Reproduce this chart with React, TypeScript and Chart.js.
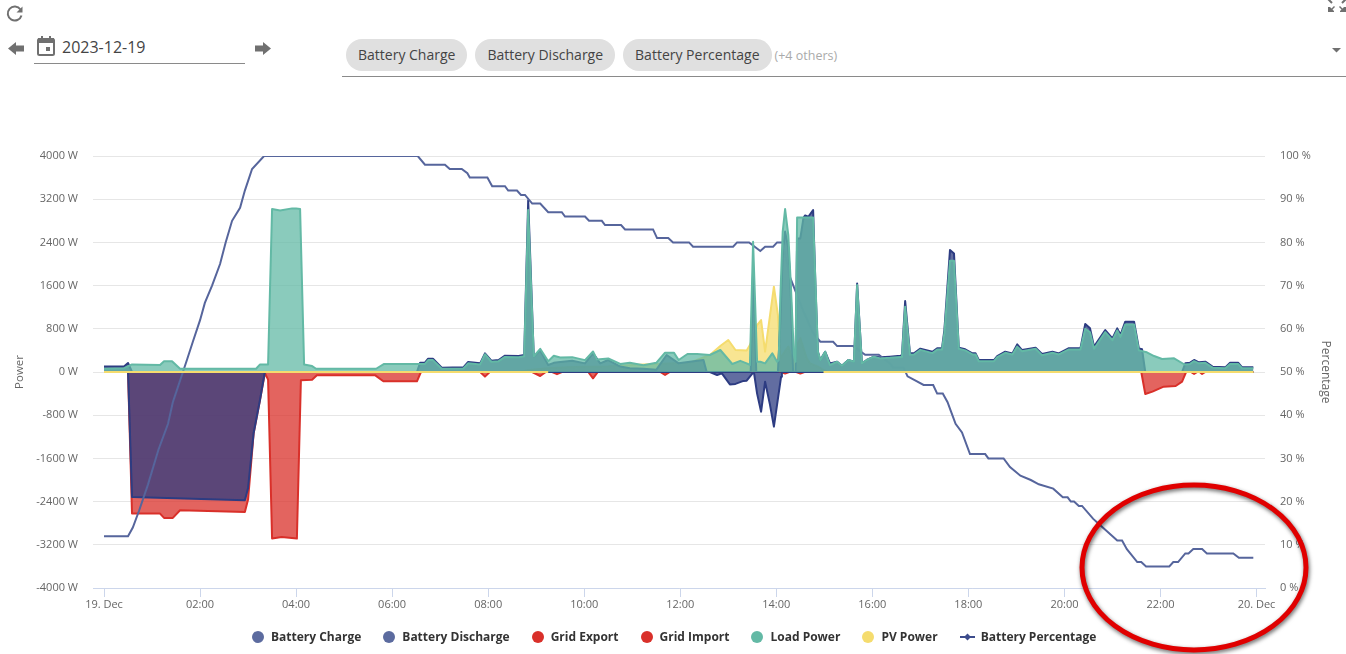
import React, { useEffect, useRef } from 'react';
import { Chart } from 'chart.js/auto';

// all series are [minutes since 19 Dec 00:00, value]
const batteryCharge: number[][] = [
  [0, 0], [30, 0], [35, -2313], [176, -2375], [180, -2147], [187, -1129], [195, -512], [201, 0],
  [740, 0], [757, 0], [766, -55], [772, -25], [782, -230], [789, -220], [799, -165], [803, -160],
  [810, -30], [812, 0], [816, -400], [821, -735], [826, -180], [832, -600], [837, -1012], [846, -86], [847, 0], [1436, 0],
];
const batteryDischarge: number[][] = [
  [0, 100], [25, 100], [30, 167], [35, 0], [391, 0], [395, 173], [401, 173], [405, 247], [411, 247], [422, 80],
  [449, 86], [455, 185], [470, 160], [476, 345], [484, 210], [493, 222], [501, 302], [518, 296], [525, 315],
  [530, 3180], [537, 285], [545, 400], [555, 130], [562, 170], [570, 185], [585, 210], [601, 160], [611, 345],
  [620, 160], [630, 222], [645, 100], [657, 70], [674, 60], [690, 40], [703, 315], [718, 160], [732, 191],
  [749, 222], [753, 0], [808, 0], [811, 1900], [815, 0], [842, 0], [845, 900], [848, 2200], [851, 2600], [855, 2300],
  [858, 1500], [861, 0], [864, 0], [866, 2474], [870, 2474], [874, 2857], [876, 2900], [880, 2875], [886, 3000],
  [889, 1550], [892, 376], [895, 222], [901, 376], [907, 160], [916, 190], [922, 117],
  [930, 222], [937, 190], [941, 1640], [947, 160], [953, 222], [962, 284], [970, 271], [982, 284], [995, 302],
  [997, 310], [1001, 1314], [1007, 345], [1012, 345], [1020, 432], [1035, 376], [1041, 438], [1047, 438],
  [1050, 777], [1057, 2258], [1062, 2196], [1068, 450], [1076, 420], [1085, 345], [1089, 345], [1093, 222],
  [1112, 222], [1116, 296], [1126, 376], [1135, 345], [1141, 512], [1147, 407], [1164, 450], [1172, 333],
  [1185, 376], [1193, 345], [1205, 438], [1220, 438], [1226, 888], [1232, 808], [1237, 469], [1251, 777],
  [1260, 623], [1266, 808], [1270, 685], [1276, 932], [1287, 932], [1293, 438], [1297, 420], [1301, 0],
  [1347, 0], [1351, 160], [1357, 173], [1362, 222], [1368, 179], [1376, 191], [1385, 99], [1401, 86],
  [1407, 173], [1417, 173], [1422, 86], [1436, 86],
];
const gridExport: number[][] = [[0, 0], [1436, 0]];
const gridImport: number[][] = [
  [0, 0], [30, 0], [35, -2622], [70, -2622], [75, -2702], [86, -2702], [95, -2560], [176, -2591], [180, -2363],
  [187, -1129], [195, -512], [201, -18], [205, -142], [210, -3085], [222, -3054], [241, -3085], [246, -154],
  [260, -142], [266, -62], [339, -62], [349, -172], [391, -172], [396, 0], [470, 0], [476, -86], [482, 0],
  [535, 0], [545, -74], [552, 0], [560, 0], [566, -40], [572, 0], [605, 0], [611, -117], [617, 0], [695, 0],
  [701, -55], [707, 0], [846, 0], [851, -30], [856, 0], [865, 0], [870, -30], [875, 0], [1296, 0], [1301, -407],
  [1310, -364], [1324, -271], [1339, -259], [1347, -179], [1352, 0], [1358, 0], [1362, -37], [1366, 0],
  [1369, 0], [1372, -37], [1376, 0], [1436, 0],
];
const loadPower: number[][] = [
  [0, 60], [25, 70], [35, 140], [70, 130], [75, 200], [85, 200], [95, 60], [190, 60], [195, 140], [205, 140],
  [210, 3020], [220, 2990], [235, 3030], [240, 3030], [245, 3020], [250, 140], [260, 110], [265, 60], [340, 60],
  [350, 150], [395, 150], [401, 150], [405, 220], [411, 220], [422, 60], [449, 65], [455, 160], [470, 140],
  [476, 330], [484, 190], [493, 200], [501, 280], [518, 275], [525, 290], [530, 3000], [537, 290], [545, 430],
  [555, 200], [562, 300], [570, 270], [585, 275], [601, 220], [611, 380], [616, 230], [630, 250], [645, 150],
  [657, 170], [674, 125], [690, 170], [701, 358], [712, 358], [718, 222], [729, 333], [741, 333], [757, 315],
  [770, 407], [785, 148], [795, 207], [803, 160], [807, 130], [811, 2412], [816, 190], [820, 190], [826, 160],
  [835, 345], [841, 190], [843, 222], [845, 1363], [848, 2598], [851, 3017], [855, 2536], [858, 1672], [862, 315],
  [864, 191], [866, 2863], [886, 2863], [892, 376], [895, 222], [901, 376], [907, 130], [916, 190], [922, 117],
  [930, 222], [937, 190], [941, 1610], [947, 160],
  [953, 222], [962, 284], [970, 250], [982, 262], [995, 280], [997, 280], [1001, 1210], [1007, 320], [1012, 325],
  [1020, 410], [1035, 350], [1041, 415], [1047, 415], [1050, 720], [1057, 2060], [1062, 2060], [1068, 430],
  [1076, 400], [1085, 325], [1089, 325], [1093, 200], [1112, 200], [1116, 275], [1126, 355], [1135, 325],
  [1141, 470], [1147, 385], [1164, 430], [1172, 310], [1185, 355], [1193, 325], [1205, 415], [1220, 415],
  [1226, 800], [1232, 735], [1237, 430], [1251, 740], [1260, 590], [1266, 770], [1270, 650], [1276, 880],
  [1287, 880], [1293, 400], [1303, 364], [1312, 296], [1322, 240], [1337, 253], [1349, 148], [1351, 140],
  [1357, 150], [1362, 200], [1368, 160], [1376, 170], [1385, 80], [1401, 70], [1407, 150], [1417, 150],
  [1422, 70], [1436, 70],
];
const pvPower: number[][] = [
  [0, 0], [505, 0], [520, 10], [535, 40], [555, 70], [580, 90], [605, 95], [630, 100], [660, 130], [690, 150],
  [715, 160], [732, 172], [757, 315], [770, 481], [780, 592], [789, 407], [803, 400], [807, 500], [812, 685],
  [816, 870], [821, 962], [826, 376], [837, 1580], [842, 1055], [845, 253], [855, 469], [861, 191], [866, 500],
  [870, 623], [878, 253], [882, 160], [892, 100], [899, 37], [905, 0], [1436, 0],
];
const batteryPercentage: number[][] = [
  [0, 12], [30, 12], [36, 14], [44, 18], [55, 24], [68, 32], [80, 38], [86, 43], [95, 48], [104, 53], [111, 57],
  [120, 62], [126, 66], [135, 70], [145, 75], [152, 80], [160, 85], [170, 88], [176, 92], [185, 97], [200, 100],
  [392, 100], [401, 98], [426, 98], [432, 97], [447, 97], [454, 96], [457, 95], [479, 95], [485, 93], [501, 93],
  [505, 92], [516, 92], [521, 91], [526, 91], [535, 89], [545, 89], [555, 87], [572, 87], [576, 86], [601, 86],
  [606, 85], [622, 85], [626, 84], [646, 84], [651, 83], [686, 83], [691, 81], [705, 81], [711, 80], [731, 80],
  [736, 79], [786, 79], [791, 80], [806, 80], [820, 78], [826, 79], [836, 79], [841, 80], [848, 80], [857, 72],
  [874, 64], [886, 59], [895, 57], [911, 57], [916, 56], [936, 56], [951, 54], [968, 54], [982, 52], [986, 51],
  [999, 51], [1004, 49], [1014, 48], [1024, 47], [1036, 47], [1041, 45], [1048, 45], [1054, 43], [1058, 41],
  [1064, 38], [1072, 36], [1082, 31], [1101, 31], [1105, 30], [1124, 30], [1132, 28], [1145, 26], [1158, 25],
  [1168, 24], [1186, 23], [1198, 21], [1204, 21], [1208, 20], [1212, 20], [1218, 19], [1222, 19], [1236, 16],
  [1242, 15], [1266, 11], [1272, 11], [1278, 9], [1291, 6], [1296, 6], [1302, 5], [1331, 5], [1336, 6], [1342, 6],
  [1351, 8], [1355, 8], [1361, 9], [1372, 9], [1378, 8], [1411, 8], [1418, 7], [1436, 7],
];

const timeTicks = [0, 120, 240, 360, 480, 600, 720, 840, 960, 1080, 1200, 1320, 1440];
const timeLabels = ['19. Dec', '02:00', '04:00', '06:00', '08:00', '10:00', '12:00', '14:00', '16:00', '18:00', '20:00', '22:00', '20. Dec'];
const chips = ['Battery Charge', 'Battery Discharge', 'Battery Percentage'];

const NAVY = '45, 60, 130';
const RED = '217, 48, 42';
const TEAL = '99, 185, 165';
const YELLOW = '245, 220, 110';
const FONT = '"Open Sans", sans-serif';

const legendItems = [
  { label: 'Battery Charge', color: '#5c6b9f' },
  { label: 'Battery Discharge', color: '#5c6b9f' },
  { label: 'Grid Export', color: '#d9302a' },
  { label: 'Grid Import', color: '#d9302a' },
  { label: 'Load Power', color: '#63b9a5' },
  { label: 'PV Power', color: '#f5dc6e' },
  { label: 'Battery Percentage', color: '#3d4c8c', line: true },
];

const toPoints = (rows: number[][]) => rows.map(([x, y]) => ({ x, y }));

function area(label: string, rows: number[][], rgb: string, order: number) {
  return {
    label,
    data: toPoints(rows),
    order,
    yAxisID: 'y',
    borderColor: `rgb(${rgb})`,
    backgroundColor: `rgba(${rgb}, 0.75)`,
    borderWidth: 2,
    borderJoinStyle: 'round',
    pointRadius: 0,
    fill: 'origin',
    tension: 0,
  };
}

function PowerChart() {
  const chartRef = useRef<HTMLCanvasElement | null>(null);

  useEffect(() => {
    document.body.style.margin = '0';
    if (!chartRef.current) return;
    const chart = new Chart(chartRef.current, {
      type: 'line',
      data: {
        datasets: [
          area('Battery Charge', batteryCharge, NAVY, 4),
          area('Battery Discharge', batteryDischarge, NAVY, 3),
          area('Grid Export', gridExport, RED, 7),
          area('Grid Import', gridImport, RED, 6),
          area('Load Power', loadPower, TEAL, 1),
          area('PV Power', pvPower, YELLOW, 5),
          {
            label: 'Battery Percentage',
            data: toPoints(batteryPercentage),
            order: 2,
            yAxisID: 'yPct',
            borderColor: 'rgb(86, 101, 156)',
            borderWidth: 2,
            pointRadius: 0,
            fill: false,
            tension: 0,
          },
          // yellow baseline stays visible where PV is about zero
          {
            label: 'PV baseline',
            data: pvPower.map(([x, y]) => ({ x, y: y <= 70 ? 0 : null })),
            order: 0,
            yAxisID: 'y',
            borderColor: 'rgb(245, 220, 110)',
            borderWidth: 2,
            pointRadius: 0,
            fill: false,
            spanGaps: false,
          },
        ],
      } as any,
      options: {
        responsive: false,
        animation: false,
        layout: { padding: { top: 156, left: 0, right: 0, bottom: 0 } },
        plugins: { legend: { display: false }, tooltip: { enabled: false } },
        scales: {
          x: {
            type: 'linear',
            position: 'bottom',
            min: -13.75,
            max: 1450.6,
            afterBuildTicks: (scale: any) => {
              scale.ticks = timeTicks.map((value) => ({ value }));
            },
            afterFit: (scale: any) => {
              scale.height = 66;
            },
            border: { color: '#ccd6eb' },
            grid: { drawOnChartArea: false, color: '#ccd6eb', tickLength: 9 },
            ticks: {
              padding: 1,
              color: '#666',
              autoSkip: false,
              maxRotation: 0,
              font: { size: 11, family: FONT },
              callback: (v: any) => timeLabels[timeTicks.indexOf(v)] ?? '',
            },
          },
          y: {
            position: 'left',
            min: -4000,
            max: 4000,
            afterFit: (scale: any) => {
              scale.width = 93;
            },
            border: { display: false },
            grid: { color: '#e6e6e6', drawTicks: false },
            ticks: {
              stepSize: 800,
              padding: 15,
              color: '#666',
              font: { size: 11, family: FONT },
              callback: (v: any) => `${v} W`,
            },
            title: {
              display: true,
              text: 'Power',
              color: '#666',
              font: { size: 11.5, family: FONT },
              padding: { top: 13, bottom: 0 },
            },
          },
          yPct: {
            position: 'right',
            min: 0,
            max: 100,
            afterFit: (scale: any) => {
              scale.width = 81;
            },
            border: { display: false },
            grid: { display: false, drawTicks: false },
            ticks: {
              stepSize: 10,
              padding: 15,
              color: '#666',
              font: { size: 11, family: FONT },
              callback: (v: any) => `${v} %`,
            },
            title: {
              display: true,
              text: 'Percentage',
              color: '#666',
              font: { size: 12, family: FONT },
              padding: { top: 13, bottom: 0 },
            },
          },
        },
      },
    } as any);
    return () => chart.destroy();
  }, []);

  return <canvas ref={chartRef} width={1346} height={654} style={{ position: 'absolute', left: 0, top: 0, filter: 'blur(0.35px)' }} />;
}

function Legend() {
  return (
    <div
      style={{
        position: 'absolute', left: 252, top: 628, height: 17, display: 'flex', alignItems: 'center',
        gap: 22, font: `700 12px ${FONT}`, color: '#333', whiteSpace: 'nowrap',
      }}
    >
      {legendItems.map((item) => (
        <span key={item.label} style={{ display: 'flex', alignItems: 'center' }}>
          {item.line ? (
            <svg width="15" height="12" style={{ marginRight: 6 }}>
              <line x1="0" y1="6" x2="15" y2="6" stroke={item.color} strokeWidth="2" />
              <path d="M7.5 2.5 L11 6 L7.5 9.5 L4 6 Z" fill={item.color} />
            </svg>
          ) : (
            <span style={{ width: 12, height: 12, borderRadius: 6, background: item.color, marginRight: 7 }} />
          )}
          {item.label}
        </span>
      ))}
    </div>
  );
}

function Toolbar() {
  const gray = '#707070';
  return (
    <>
      <svg width="1346" height="80" style={{ position: 'absolute', left: 0, top: 0 }}>
        {/* refresh */}
        <path d="M20.5 9.5 A7 7 0 1 0 21.5 15.5" fill="none" stroke={gray} strokeWidth="2" />
        <path d="M22.5 6.5 V12.5 H16.5 Z" fill={gray} />
        {/* back / forward arrows */}
        <path d="M8 48.5 L16 42 V45.5 H24 V51.5 H16 V55 Z" fill={gray} />
        <path d="M271 48.5 L263 42 V45.5 H255 V51.5 H263 V55 Z" fill={gray} />
        {/* calendar */}
        <rect x="38" y="39" width="16" height="16" rx="1.5" fill="none" stroke={gray} strokeWidth="2" />
        <rect x="38" y="38" width="16" height="5" fill={gray} />
        <rect x="41" y="36" width="2" height="3" fill={gray} />
        <rect x="49" y="36" width="2" height="3" fill={gray} />
        <rect x="46" y="47" width="4" height="4" fill={gray} />
        {/* fullscreen, cut by the top edge */}
        <path d="M1328 -1 L1332 3 M1346 -1 L1342 3" stroke={gray} strokeWidth="2" />
        <path d="M1328 12 V7 H1330 L1331.5 8.5 L1334 6 L1335 7 L1332.5 9.5 L1334 11 V12 Z" fill={gray} />
        <path d="M1346 12 V7 H1344 L1342.5 8.5 L1340 6 L1339 7 L1341.5 9.5 L1340 11 V12 Z" fill={gray} />
        {/* dropdown arrow */}
        <path d="M1332 48 H1341 L1336.5 52.5 Z" fill={gray} />
        <line x1="34" y1="63.5" x2="245" y2="63.5" stroke="#8a8a8a" />
        <line x1="342" y1="76.5" x2="1346" y2="76.5" stroke="#8a8a8a" />
      </svg>
      <div style={{ position: 'absolute', left: 62, top: 36, font: `16px/22px ${FONT}`, color: '#444' }}>2023-12-19</div>
      <div style={{ position: 'absolute', left: 346, top: 39, display: 'flex', gap: 8, alignItems: 'center' }}>
        {chips.map((chip) => (
          <span
            key={chip}
            style={{
              height: 32, lineHeight: '32px', padding: '0 12px', borderRadius: 16, background: '#e0e0e0',
              font: `14px/32px ${FONT}`, color: '#444', whiteSpace: 'nowrap',
            }}
          >
            {chip}
          </span>
        ))}
        <span style={{ font: `12.5px ${FONT}`, color: '#aaa', marginLeft: -5, whiteSpace: 'nowrap' }}>(+4 others)</span>
      </div>
    </>
  );
}

export default function App() {
  return (
    <div style={{ position: 'absolute', left: 0, top: 0, width: 1346, height: 654, overflow: 'hidden', background: '#fff' }}>
      <Toolbar />
      <PowerChart />
      <Legend />
      {/* hand-drawn highlight on top of the screenshot */}
      <svg width="1346" height="654" style={{ position: 'absolute', left: 0, top: 0, pointerEvents: 'none', filter: 'drop-shadow(1px 2px 2px rgba(0,0,0,0.6))' }}>
        <ellipse cx="1194" cy="567.5" rx="112" ry="82.5" fill="none" stroke="#e00000" strokeWidth="5" />
      </svg>
    </div>
  );
}
